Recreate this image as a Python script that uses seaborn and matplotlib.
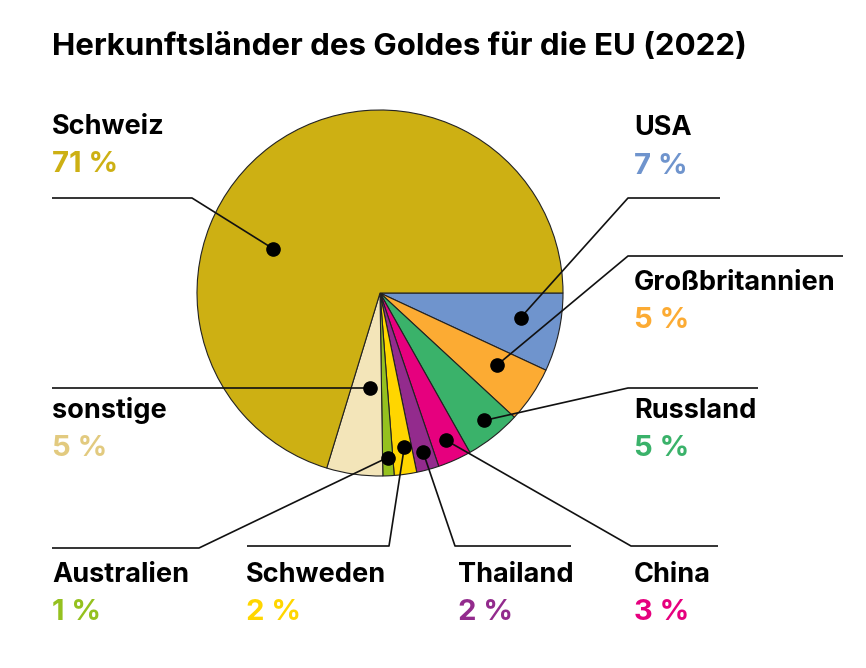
import numpy as np
import matplotlib
matplotlib.use("Agg")
import matplotlib.pyplot as plt
import seaborn as sns

# Daten
laender = ["USA", "Großbritannien", "Russland", "China", "Thailand",
           "Schweden", "Australien", "sonstige", "Schweiz"]
anteile = [7, 5, 5, 3, 2, 2, 1, 5, 71]
farben = ["#6f94cd", "#fcab33", "#3ab26a", "#e6007e", "#932b8d",
          "#ffd600", "#95c11f", "#f3e5b9", "#cdb013"]
text_farben = ["#6f94cd", "#fcab33", "#3ab26a", "#e6007e", "#932b8d",
               "#ffd600", "#95c11f", "#e2ca7f", "#cdb013"]

W, H = 866, 668
sns.set_style("white")
plt.rcParams['font.family'] = ['Inter', 'DejaVu Sans']

fig = plt.figure(figsize=(W / 100, H / 100), dpi=100)
ax = fig.add_axes([0, 0, 1, 1])
ax.set_aspect('equal')

cx, cy, r = 380, H - 293, 183
wedges, _ = ax.pie(anteile, colors=farben, startangle=0, counterclock=False,
                   center=(cx, cy), radius=r, frame=True,
                   wedgeprops=dict(edgecolor='#222222', linewidth=0.8))
ax.set_xlim(0, W)
ax.set_ylim(0, H)
ax.axis('off')

# Layout: Textposition (px), Knick der Linie, Linienende, Punkt-Radius, Winkelversatz
layout = {
    "USA":            dict(tx=634, ty=128, knick=(628, 198), ende=720, rf=0.78, dw=2.5),
    "Großbritannien": dict(tx=634, ty=283, knick=(628, 256), ende=843, rf=0.75, dw=2),
    "Russland":       dict(tx=634, ty=411, knick=(628, 388), ende=758, rf=0.90, dw=1),
    "China":          dict(tx=634, ty=575, knick=(631, 546), ende=718, rf=0.88, dw=0),
    "Thailand":       dict(tx=458, ty=575, knick=(455, 546), ende=571, rf=0.90, dw=0),
    "Schweden":       dict(tx=246, ty=575, knick=(389, 546), ende=247, rf=0.85, dw=1),
    "Australien":     dict(tx=52, ty=575, knick=(199, 548), ende=52, rf=0.90, dw=0),
    "sonstige":       dict(tx=52, ty=411, knick=None, ende=52, rf=0.52, dw=2),
    "Schweiz":        dict(tx=52, ty=127, knick=(192, 198), ende=52, rf=0.63, dw=31),
}

for w, land, wert, tf in zip(wedges, laender, anteile, text_farben):
    L = layout[land]
    mid = np.deg2rad((w.theta1 + w.theta2) / 2 + L["dw"])
    px = cx + L["rf"] * r * np.cos(mid)
    py = cy + L["rf"] * r * np.sin(mid)
    if L["knick"] is None:
        xs = [px, L["ende"]]
        ys = [py, py]
    else:
        kx, ky = L["knick"]
        xs = [px, kx, L["ende"]]
        ys = [py, H - ky, H - ky]
    ax.plot(xs, ys, color='#111111', lw=1.2, solid_capstyle='butt', zorder=3)
    ax.plot(px, py, 'o', color='black', markersize=9.5, zorder=4)
    ax.text(L["tx"], H - L["ty"], land, fontsize=19.5, fontweight='bold',
            color='black', ha='left', va='center')
    ax.text(L["tx"], H - L["ty"] - 38, f"{wert} %", fontsize=21,
            fontweight='bold', color=tf, ha='left', va='center')

ax.text(52, H - 47, "Herkunftsländer des Goldes für die EU (2022)",
        fontsize=22.5, fontweight='bold', color='black', ha='left', va='center')

fig.savefig("out.png", dpi=100)
